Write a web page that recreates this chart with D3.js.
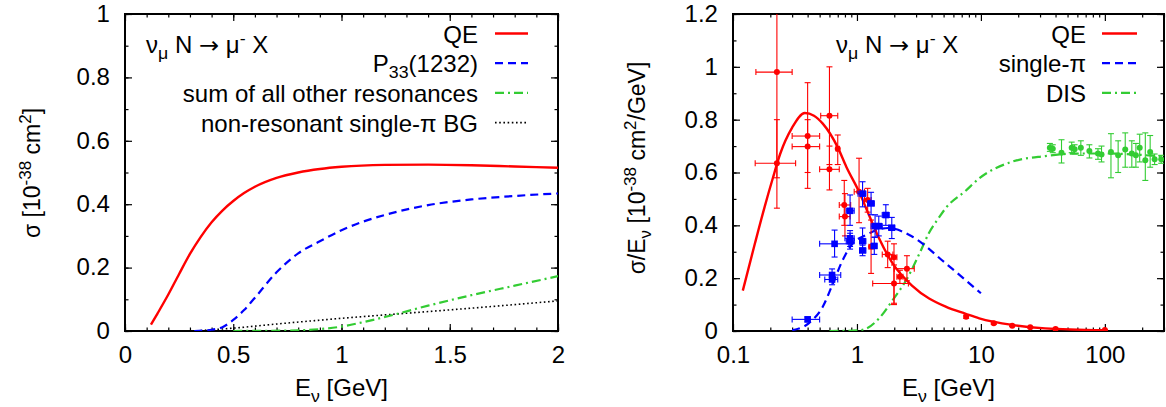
<!DOCTYPE html>
<html>
<head>
<meta charset="utf-8">
<script src="https://cdn.jsdelivr.net/npm/d3@7"></script>
<style>
  body { margin: 0; background: #fff; }
  svg { font-family: "Liberation Sans", Arial, Helvetica, sans-serif; }
</style>
</head>
<body>
<div id="chart"></div>
<script>
/* DATA */
// left panel: sigma [1e-38 cm^2] vs E_nu [GeV]
const qeLeftE = [0.12, 0.15, 0.2, 0.25, 0.3, 0.35, 0.4, 0.45, 0.5, 0.55, 0.6, 0.7, 0.8, 0.9, 1.0, 1.2, 1.4, 1.6, 1.8, 2.0];
const qeLeftS = [0.02, 0.055, 0.115, 0.18, 0.243, 0.297, 0.343, 0.38, 0.41, 0.435, 0.455, 0.483, 0.5, 0.511, 0.518, 0.524, 0.525, 0.523, 0.519, 0.515];
const p33E = [0.32, 0.4, 0.45, 0.5, 0.55, 0.6, 0.7, 0.8, 0.9, 1.0, 1.1, 1.2, 1.4, 1.6, 1.8, 2.0];
const p33S = [0, 0.004, 0.012, 0.035, 0.066, 0.105, 0.185, 0.245, 0.283, 0.318, 0.345, 0.366, 0.397, 0.415, 0.426, 0.434];
const otherResE = [0.5, 0.8, 0.9, 1.0, 1.1, 1.2, 1.4, 1.6, 1.8, 2.0];
const otherResS = [0, 0.002, 0.006, 0.014, 0.028, 0.044, 0.08, 0.113, 0.143, 0.173];
const nonResE = [0.33, 0.4, 0.5, 0.7, 1.0, 1.3, 1.6, 2.0];
const nonResS = [0, 0.004, 0.009, 0.022, 0.04, 0.056, 0.072, 0.095];

// right panel: sigma/E [1e-38 cm^2/GeV] vs E_nu (log)
const qeRightE = [0.12, 0.15, 0.18, 0.21, 0.24, 0.3, 0.38, 0.45, 0.53, 0.7, 0.82, 1.04, 1.26, 1.51, 1.94, 2.81, 5.2, 7.55, 9.7, 17.9, 33, 100];
const qeRightS = [0.153, 0.33, 0.47, 0.58, 0.67, 0.77, 0.825, 0.815, 0.785, 0.695, 0.622, 0.527, 0.435, 0.35, 0.256, 0.17, 0.092, 0.065, 0.048, 0.023, 0.01, 0.003];
const piRightE = [0.3, 0.41, 0.53, 0.64, 0.77, 0.92, 1.18, 1.51, 1.8, 2.8, 5.2, 10];
const piRightS = [0.003, 0.03, 0.092, 0.18, 0.27, 0.33, 0.363, 0.385, 0.39, 0.357, 0.256, 0.143];
const disRightE = [0.6, 1.0, 1.2, 1.51, 1.94, 2.5, 3.2, 3.8, 4.6, 5.2, 7.5, 9.7, 17.9, 33, 61, 100, 300];
const disRightS = [0, 0.002, 0.01, 0.048, 0.117, 0.193, 0.294, 0.37, 0.43, 0.465, 0.53, 0.578, 0.641, 0.662, 0.672, 0.672, 0.66];

// measured points: E, sigma/E, E low, E high, sigma low, sigma high
const qeDataE   = [0.226, 0.226, 0.40, 0.40, 0.60, 0.60, 0.70, 0.79, 0.80, 1.04, 1.22, 1.30, 1.77, 1.99, 2.22, 1.99, 2.53, 7.6, 12.7, 17.9, 25, 40, 100];
const qeDataS   = [0.98, 0.635, 0.738, 0.698, 0.815, 0.612, 0.69, 0.477, 0.433, 0.527, 0.496, 0.319, 0.29, 0.279, 0.205, 0.18, 0.236, 0.054, 0.029, 0.02, 0.014, 0.008, 0.004];
const qeDataElo = [0.153, 0.151, 0.30, 0.30, 0.51, 0.50, 0.68, 0.72, 0.72, 0.95, 1.15, 1.25, 1.60, 1.90, 2.10, 1.34, 2.0, 7.6, 12.7, 17.9, 25, 40, 100];
const qeDataEhi = [0.30, 0.32, 0.50, 0.50, 0.70, 0.72, 0.72, 0.89, 0.88, 1.15, 1.30, 1.35, 1.95, 2.10, 2.35, 2.6, 2.9, 7.6, 12.7, 17.9, 25, 40, 100];
const qeDataSlo = [0.58, 0.465, 0.54, 0.60, 0.63, 0.534, 0.63, 0.40, 0.36, 0.41, 0.45, 0.218, 0.24, 0.105, 0.18, 0.10, 0.19, 0.048, 0.025, 0.017, 0.012, 0.006, 0.003];
const qeDataShi = [1.40, 0.80, 0.94, 0.80, 1.00, 0.70, 0.742, 0.57, 0.52, 0.654, 0.54, 0.42, 0.34, 0.33, 0.23, 0.25, 0.285, 0.06, 0.033, 0.023, 0.016, 0.01, 0.005];

const piDataE   = [0.40, 0.63, 0.63, 0.66, 0.88, 0.88, 0.88, 1.11, 1.11, 1.11, 1.30, 1.40, 1.50, 1.38, 1.71, 1.91];
const piDataS   = [0.044, 0.212, 0.195, 0.33, 0.455, 0.351, 0.34, 0.52, 0.34, 0.305, 0.483, 0.397, 0.397, 0.322, 0.439, 0.391];
const piDataElo = [0.30, 0.50, 0.55, 0.50, 0.82, 0.80, 0.82, 1.02, 1.05, 1.05, 1.22, 1.30, 1.40, 1.30, 1.60, 1.80];
const piDataEhi = [0.50, 0.74, 0.70, 0.86, 0.95, 0.95, 0.95, 1.18, 1.18, 1.18, 1.38, 1.50, 1.60, 1.45, 1.82, 2.02];
const piDataSlo = [0.035, 0.19, 0.175, 0.28, 0.40, 0.32, 0.31, 0.47, 0.30, 0.285, 0.44, 0.355, 0.36, 0.29, 0.40, 0.35];
const piDataShi = [0.053, 0.235, 0.215, 0.382, 0.515, 0.38, 0.37, 0.565, 0.39, 0.325, 0.525, 0.44, 0.435, 0.355, 0.478, 0.43];

const disDataE   = [36, 38, 44.7, 54, 57, 64, 75, 88, 94, 112, 128, 146, 165, 178, 191, 212, 232, 252, 285];
const disDataS   = [0.694, 0.69, 0.675, 0.694, 0.688, 0.694, 0.681, 0.672, 0.668, 0.678, 0.665, 0.687, 0.672, 0.665, 0.694, 0.646, 0.678, 0.65, 0.65];
const disDataSlo = [0.68, 0.675, 0.636, 0.675, 0.67, 0.665, 0.655, 0.65, 0.64, 0.58, 0.60, 0.62, 0.62, 0.62, 0.64, 0.57, 0.62, 0.63, 0.635];
const disDataShi = [0.71, 0.705, 0.724, 0.715, 0.705, 0.72, 0.705, 0.69, 0.70, 0.747, 0.72, 0.75, 0.72, 0.71, 0.745, 0.75, 0.74, 0.67, 0.665];

const leftXTicks = [0, 0.5, 1, 1.5, 2];
const leftYTicks = [0, 0.2, 0.4, 0.6, 0.8, 1];
const rightXTicks = [0.1, 1, 10, 100];
const rightYTicks = [0, 0.2, 0.4, 0.6, 0.8, 1, 1.2];

/* CONSTANTS */
const width = 1166, height = 407;
const RED = "#ff0000", BLUE = "#0000ff", GREEN = "#33cc33";
const fontSize = 23, smallSize = 17;
const stretch = 1.045; // reference glyphs are a bit wider than Liberation Sans

const svg = d3.select("#chart").append("svg")
  .attr("width", width)
  .attr("height", height);

svg.append("rect").attr("width", width).attr("height", height).attr("fill", "#fff");

// text with sub/superscripts: parts = [[text, "sup"|"sub"|undefined, font?], ...]
function richText(sel, parts) {
  let shift = 0;
  parts.forEach(([t, kind, font]) => {
    const target = kind === "sup" ? -9 : kind === "sub" ? 6 : 0;
    sel.append("tspan")
      .attr("dy", target - shift)
      .attr("font-size", kind ? smallSize : null)
      .attr("font-family", font || null)
      .text(t);
    shift = target;
  });
  return sel;
}

const zip = (xs, ys) => xs.map((x, i) => [x, ys[i]]);

/* LEFT PANEL */
const L = { left: 125, right: 558, top: 14, bottom: 331 };
const xL = d3.scaleLinear().domain([0, 2]).range([L.left, L.right]);
const yL = d3.scaleLinear().domain([0, 1]).range([L.bottom, L.top]);

/* RIGHT PANEL */
const R = { left: 733, right: 1164, top: 14, bottom: 331 };
const xR = d3.scaleLog().domain([0.1, 300]).range([R.left, R.right]);
const yR = d3.scaleLinear().domain([0, 1.2]).range([R.bottom, R.top]);

function drawFrame(P, x, y, xMajor, xMinor, yMajor, yMinor, xFmt, yFmt) {
  const g = svg.append("g");
  const axes = [
    [d3.axisBottom(x).tickValues(xMajor).tickFormat(xFmt).tickSize(-7).tickPadding(16), `translate(0,${P.bottom})`],
    [d3.axisBottom(x).tickValues(xMinor).tickFormat("").tickSize(-3.5), `translate(0,${P.bottom})`],
    [d3.axisTop(x).tickValues(xMajor).tickFormat("").tickSize(-7), `translate(0,${P.top})`],
    [d3.axisTop(x).tickValues(xMinor).tickFormat("").tickSize(-3.5), `translate(0,${P.top})`],
    [d3.axisLeft(y).tickValues(yMajor).tickFormat(yFmt).tickSize(-7).tickPadding(15), `translate(${P.left},0)`],
    [d3.axisLeft(y).tickValues(yMinor).tickFormat("").tickSize(-3.5), `translate(${P.left},0)`],
    [d3.axisRight(y).tickValues(yMajor).tickFormat("").tickSize(-7), `translate(${P.right},0)`],
    [d3.axisRight(y).tickValues(yMinor).tickFormat("").tickSize(-3.5), `translate(${P.right},0)`]
  ];
  axes.forEach(([ax, tr]) => {
    const a = g.append("g").attr("transform", tr).call(ax);
    a.select(".domain").remove();
    a.selectAll("line").attr("stroke", "#000").attr("stroke-width", 1.2);
    a.selectAll("text").attr("font-size", fontSize).attr("fill", "#000")
      .attr("font-family", "Liberation Sans, Arial, sans-serif");
  });
  g.append("rect")
    .attr("x", P.left).attr("y", P.top)
    .attr("width", P.right - P.left).attr("height", P.bottom - P.top)
    .attr("fill", "none").attr("stroke", "#000").attr("stroke-width", 2);
}

const numFmt = d => d3.format("~g")(d);

drawFrame(L, xL, yL, leftXTicks, d3.range(0, 2.001, 0.1).map(d => +d.toFixed(1)),
  leftYTicks, d3.range(0, 1.001, 0.1).map(d => +d.toFixed(1)), numFmt, numFmt);

const logMinor = [];
[0.1, 1, 10, 100].forEach(dec => d3.range(2, 10).forEach(m => { if (dec * m <= 300) logMinor.push(dec * m); }));
drawFrame(R, xR, yR, rightXTicks, logMinor,
  rightYTicks, d3.range(0, 1.201, 0.1).map(d => +d.toFixed(1)), numFmt, numFmt);

// clip paths
const defs = svg.append("defs");
defs.append("clipPath").attr("id", "clipL").append("rect")
  .attr("x", L.left).attr("y", L.top).attr("width", L.right - L.left).attr("height", L.bottom - L.top);
defs.append("clipPath").attr("id", "clipR").append("rect")
  .attr("x", R.left).attr("y", R.top).attr("width", R.right - R.left).attr("height", R.bottom - R.top);

/* LEFT CURVES */
const lineL = d3.line().x(d => xL(d[0])).y(d => yL(d[1])).curve(d3.curveMonotoneX);
const gL = svg.append("g").attr("clip-path", "url(#clipL)");
const leftSeries = [
  { d: zip(nonResE, nonResS), color: "#000", dash: "1.6,2.6", w: 1.6 },
  { d: zip(otherResE, otherResS), color: GREEN, dash: "9,4,2,4", w: 2.2 },
  { d: zip(p33E, p33S), color: BLUE, dash: "8,5", w: 2.2 },
  { d: zip(qeLeftE, qeLeftS), color: RED, dash: null, w: 2.4 }
];
gL.selectAll("path.curve").data(leftSeries).join("path")
  .attr("class", "curve")
  .attr("d", s => lineL(s.d))
  .attr("fill", "none")
  .attr("stroke", s => s.color)
  .attr("stroke-width", s => s.w)
  .attr("stroke-dasharray", s => s.dash);

/* RIGHT CURVES + DATA */
const lineR = d3.line().x(d => xR(d[0])).y(d => yR(d[1])).curve(d3.curveMonotoneX);
const gR = svg.append("g").attr("clip-path", "url(#clipR)");

function drawPoints(E, S, Elo, Ehi, Slo, Shi, color, shape) {
  const pts = E.map((e, i) => ({ e, s: S[i], elo: Elo[i], ehi: Ehi[i], slo: Slo[i], shi: Shi[i] }));
  const g = gR.append("g").attr("stroke", color).attr("stroke-width", 1.1);
  const cap = 3;
  pts.forEach(p => {
    const cx = xR(p.e), cy = yR(p.s);
    // vertical error bar
    g.append("line").attr("x1", cx).attr("x2", cx).attr("y1", yR(p.slo)).attr("y2", yR(p.shi));
    g.append("line").attr("x1", cx - cap).attr("x2", cx + cap).attr("y1", yR(p.slo)).attr("y2", yR(p.slo));
    g.append("line").attr("x1", cx - cap).attr("x2", cx + cap).attr("y1", yR(p.shi)).attr("y2", yR(p.shi));
    // horizontal error bar
    if (p.ehi > p.elo) {
      g.append("line").attr("x1", xR(p.elo)).attr("x2", xR(p.ehi)).attr("y1", cy).attr("y2", cy);
      g.append("line").attr("x1", xR(p.elo)).attr("x2", xR(p.elo)).attr("y1", cy - cap).attr("y2", cy + cap);
      g.append("line").attr("x1", xR(p.ehi)).attr("x2", xR(p.ehi)).attr("y1", cy - cap).attr("y2", cy + cap);
    }
  });
  const m = gR.append("g").attr("fill", color);
  if (shape === "square") {
    m.selectAll("rect").data(pts).join("rect")
      .attr("x", p => xR(p.e) - 3.3).attr("y", p => yR(p.s) - 3.3)
      .attr("width", 6.6).attr("height", 6.6);
  } else {
    m.selectAll("circle").data(pts).join("circle")
      .attr("cx", p => xR(p.e)).attr("cy", p => yR(p.s)).attr("r", 3);
  }
}

const rightSeries = [
  { d: zip(disRightE, disRightS), color: GREEN, dash: "9,4,2,4", w: 2.2 },
  { d: zip(piRightE, piRightS), color: BLUE, dash: "8,5", w: 2.2 },
  { d: zip(qeRightE, qeRightS), color: RED, dash: null, w: 2.4 }
];

drawPoints(disDataE, disDataS, disDataE, disDataE, disDataSlo, disDataShi, GREEN, "circle");
gR.selectAll("path.curve").data(rightSeries).join("path")
  .attr("class", "curve")
  .attr("d", s => lineR(s.d))
  .attr("fill", "none")
  .attr("stroke", s => s.color)
  .attr("stroke-width", s => s.w)
  .attr("stroke-dasharray", s => s.dash);
drawPoints(qeDataE, qeDataS, qeDataElo, qeDataEhi, qeDataSlo, qeDataShi, RED, "circle");
drawPoints(piDataE, piDataS, piDataElo, piDataEhi, piDataSlo, piDataShi, BLUE, "square");

/* LEGENDS */
function legend(textRight, x1, x2, rows) {
  const g = svg.append("g").attr("font-size", fontSize);
  rows.forEach((r, i) => {
    const base = 42.5 + i * 29.7;
    richText(g.append("text").attr("x", textRight).attr("y", base).attr("text-anchor", "end"), r.label);
    g.append("line").attr("x1", x1).attr("x2", x2).attr("y1", base - 9).attr("y2", base - 9)
      .attr("stroke", r.color).attr("stroke-width", r.w).attr("stroke-dasharray", r.dash);
  });
}

legend(478, 495, 528, [
  { label: [["QE"]], color: RED, dash: null, w: 2.4 },
  { label: [["P"], ["33", "sub"], ["(1232)"]], color: BLUE, dash: "8,5", w: 2.2 },
  { label: [["sum of all other resonances"]], color: GREEN, dash: "9,4,2,4", w: 2.2 },
  { label: [["non-resonant single-π BG"]], color: "#000", dash: "1.6,2.6", w: 1.6 }
]);

legend(1086, 1102, 1137, [
  { label: [["QE"]], color: RED, dash: null, w: 2.4 },
  { label: [["single-π"]], color: BLUE, dash: "8,5", w: 2.2 },
  { label: [["DIS"]], color: GREEN, dash: "9,4,2,4", w: 2.2 }
]);

// reaction labels
const reaction = [["ν"], ["μ", "sub"], [" N "], ["→", null, "DejaVu Sans"], [" μ"], ["-", "sup"], [" X"]];
richText(svg.append("text").attr("x", 146).attr("y", 53).attr("font-size", fontSize), reaction);
richText(svg.append("text").attr("x", 836).attr("y", 53).attr("font-size", fontSize), reaction);

/* AXIS TITLES */
const xTitle = [["E"], ["ν", "sub"], [" [GeV]"]];
richText(svg.append("text").attr("x", (L.left + L.right) / 2).attr("y", 396)
  .attr("text-anchor", "middle").attr("font-size", fontSize), xTitle);
richText(svg.append("text").attr("x", (R.left + R.right) / 2).attr("y", 396)
  .attr("text-anchor", "middle").attr("font-size", fontSize), xTitle);

// widen the horizontal texts a little (anchor point stays put)
svg.selectAll("text").each(function() {
  const x = +this.getAttribute("x") || 0, y = +this.getAttribute("y") || 0;
  d3.select(this).attr("x", null).attr("y", null)
    .attr("transform", `translate(${x},${y}) scale(${stretch},1)`);
});

richText(svg.append("text")
  .attr("transform", "translate(40,173) rotate(-90)")
  .attr("text-anchor", "middle").attr("font-size", fontSize),
  [["σ [10"], ["-38", "sup"], [" cm"], ["2", "sup"], ["]"]]);

richText(svg.append("text")
  .attr("transform", "translate(645,168) rotate(-90)")
  .attr("text-anchor", "middle").attr("font-size", fontSize),
  [["σ/E"], ["ν", "sub"], [" [10"], ["-38", "sup"], [" cm"], ["2", "sup"], ["/GeV]"]]);
</script>
</body>
</html>
